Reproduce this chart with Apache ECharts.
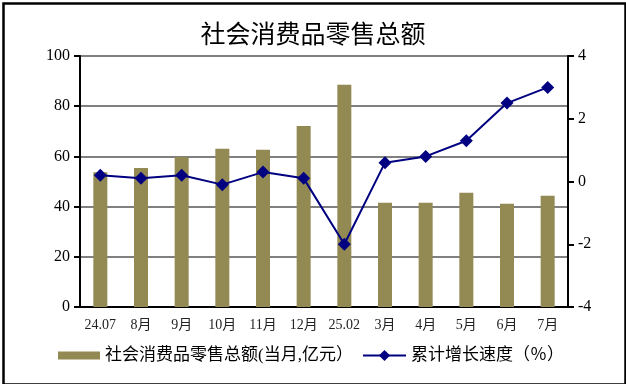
<!DOCTYPE html>
<html>
<head>
<meta charset="utf-8">
<script src="https://cdn.jsdelivr.net/npm/echarts@6/dist/echarts.min.js"></script>
<style>
html,body{margin:0;padding:0;background:#fff;}
#chart{width:626px;height:384px;}
</style>
</head>
<body>
<div id="chart"></div>
<script>
var categories = ['24.07','8月','9月','10月','11月','12月','25.02','3月','4月','5月','6月','7月'];
var salesValues = [53.7, 55.4, 59.8, 63.0, 62.6, 72.1, 88.5, 41.5, 41.5, 45.5, 41.1, 44.3];
var growthValues = [0.2, 0.1, 0.2, -0.1, 0.3, 0.1, -2.0, 0.6, 0.8, 1.3, 2.5, 3.0];
var leftTicks = [0, 20, 40, 60, 80, 100];
var rightTicks = [-4, -2, 0, 2, 4];
var salesName = '社会消费品零售总额(当月,亿元）';
var growthName = '累计增长速度（％）';

var serif = '"Liberation Serif", "Noto Sans CJK SC", serif';
var chart = echarts.init(document.getElementById('chart'), null, {renderer: 'canvas'});
chart.setOption({
  animation: false,
  backgroundColor: '#fff',
  title: {
    text: '社会消费品零售总额',
    left: 'center',
    top: 16,
    textStyle: {fontFamily: '"Noto Sans CJK SC", sans-serif', fontSize: 25, fontWeight: 'normal', color: '#000'}
  },
  graphic: [{
    type: 'rect', left: 1, top: 1, silent: true,
    shape: {x: 1, y: 1, width: 622, height: 381},
    style: {fill: 'none', stroke: '#000', lineWidth: 2.5}
  }],
  legend: [{
    left: 58, top: 347, padding: 0,
    itemWidth: 42, itemHeight: 8, itemGap: 6,
    data: [{name: salesName, icon: 'rect'}],
    textStyle: {fontFamily: serif, fontSize: 17, color: '#000'}
  }, {
    left: 362, top: 347, padding: 0,
    itemWidth: 43, itemHeight: 14, itemGap: 6,
    data: [{name: growthName}],
    textStyle: {fontFamily: serif, fontSize: 17, color: '#000'}
  }],
  grid: {left: 80, right: 58, top: 56, bottom: 77, containLabel: false},
  xAxis: {
    type: 'category',
    data: categories,
    boundaryGap: true,
    axisLine: {lineStyle: {color: '#000', width: 2}},
    axisTick: {inside: true, length: 5, lineStyle: {color: '#000', width: 1.5}},
    axisLabel: {fontFamily: serif, fontSize: 14, color: '#222', margin: 11, interval: 0}
  },
  yAxis: [{
    type: 'value', min: leftTicks[0], max: leftTicks[leftTicks.length - 1], interval: 20,
    axisLine: {show: true, lineStyle: {color: '#000', width: 2}},
    axisTick: {show: true, length: 6, lineStyle: {color: '#000', width: 2}},
    axisLabel: {fontFamily: serif, fontSize: 16, color: '#000', margin: 10},
    splitLine: {show: true, lineStyle: {color: '#808080', width: 2}}
  }, {
    type: 'value', min: rightTicks[0], max: rightTicks[rightTicks.length - 1], interval: 2,
    position: 'right',
    axisLine: {show: true, lineStyle: {color: '#000', width: 2}},
    axisTick: {show: true, length: 6, lineStyle: {color: '#000', width: 2}},
    axisLabel: {fontFamily: serif, fontSize: 16, color: '#000', margin: 10},
    splitLine: {show: false}
  }],
  series: [{
    name: salesName,
    type: 'bar',
    yAxisIndex: 0,
    data: salesValues,
    barWidth: 14,
    itemStyle: {color: '#938953'},
    z: 2
  }, {
    name: growthName,
    type: 'line',
    yAxisIndex: 1,
    data: growthValues,
    symbol: 'diamond',
    symbolSize: 13,
    lineStyle: {color: '#000080', width: 2},
    itemStyle: {color: '#000080'},
    z: 3
  }]
});
</script>
</body>
</html>
